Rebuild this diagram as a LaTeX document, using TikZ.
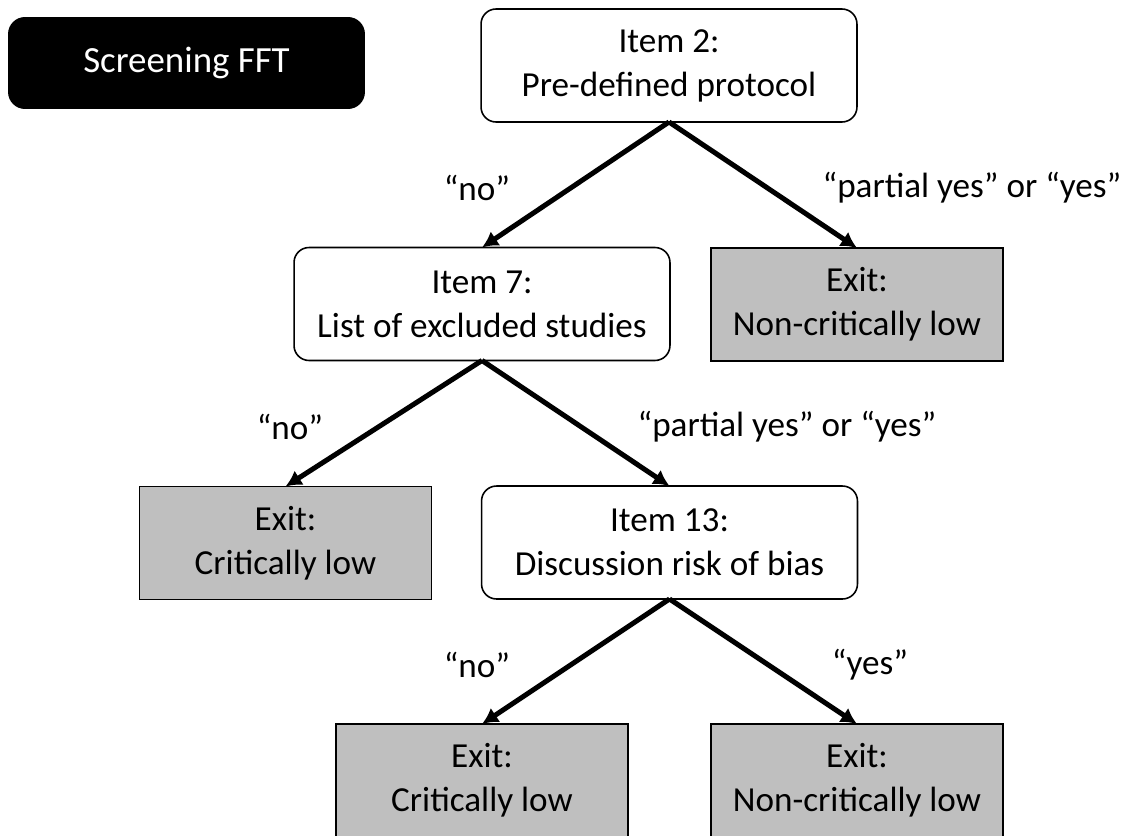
\documentclass[tikz,border=0pt]{standalone}
\usepackage{fontspec}
\setmainfont{Carlito}
\usetikzlibrary{arrows.meta}
\definecolor{exitgray}{RGB}{191,191,191}
\begin{document}
\begin{tikzpicture}[x=0.02cm,y=-0.02cm,
    item/.style={draw,rounded corners=0.3cm,fill=white,line width=0.9pt,
      minimum width=7.52cm,minimum height=2.26cm,inner sep=0pt,outer sep=0pt,
      align=center,font=\fontsize{20}{25}\selectfont},
    exitbox/.style={item,sharp corners,fill=exitgray,minimum width=5.84cm},
    answer/.style={inner sep=0pt,font=\fontsize{20}{25}\selectfont}]
  \useasboundingbox (0,0) rectangle (1128,835);
  \draw
    (186.5,63) node[fill=black,rounded corners=0.34cm,minimum width=7.14cm,
      minimum height=1.84cm,text=white,font=\fontsize{21}{26}\selectfont] (title){Screening FFT}
    (669,65.5) node[item] (item2){Item 2:\\Pre-defined protocol}
    (482,304) node[item] (item7){Item 7:\\List of excluded studies}
    (857,304.5) node[exitbox] (exit1){Exit:\\Non-critically low}
    (285.5,543) node[exitbox] (exit2){Exit:\\Critically low}
    (669.5,542.5) node[item] (item13){Item 13:\\Discussion risk of bias}
    (482,780.5) node[exitbox] (exit3){Exit:\\Critically low}
    (857,780.5) node[exitbox] (exit4){Exit:\\Non-critically low};
  % answers on the branches
  \draw
    (477,188) node[answer] (no1){“no”}
    (972,188) node[answer] (yes1){“partial yes” or “yes”}
    (290,427) node[answer] (no2){“no”}
    (787,427) node[answer] (yes2){“partial yes” or “yes”}
    (477,665) node[answer] (no3){“no”}
    (870,665) node[answer] (yes3){“yes”};
  \begin{scope}[-{Latex[length=0.32cm,width=0.34cm]},line width=2.85pt]
    \draw (item2.south) to (item7.north);
    \draw (item2.south) to (exit1.north);
    \draw (item7.south) to (exit2.north);
    \draw (item7.south) to (item13.north);
    \draw (item13.south) to (exit3.north);
    \draw (item13.south) to (exit4.north);
  \end{scope}
\end{tikzpicture}
\end{document}
